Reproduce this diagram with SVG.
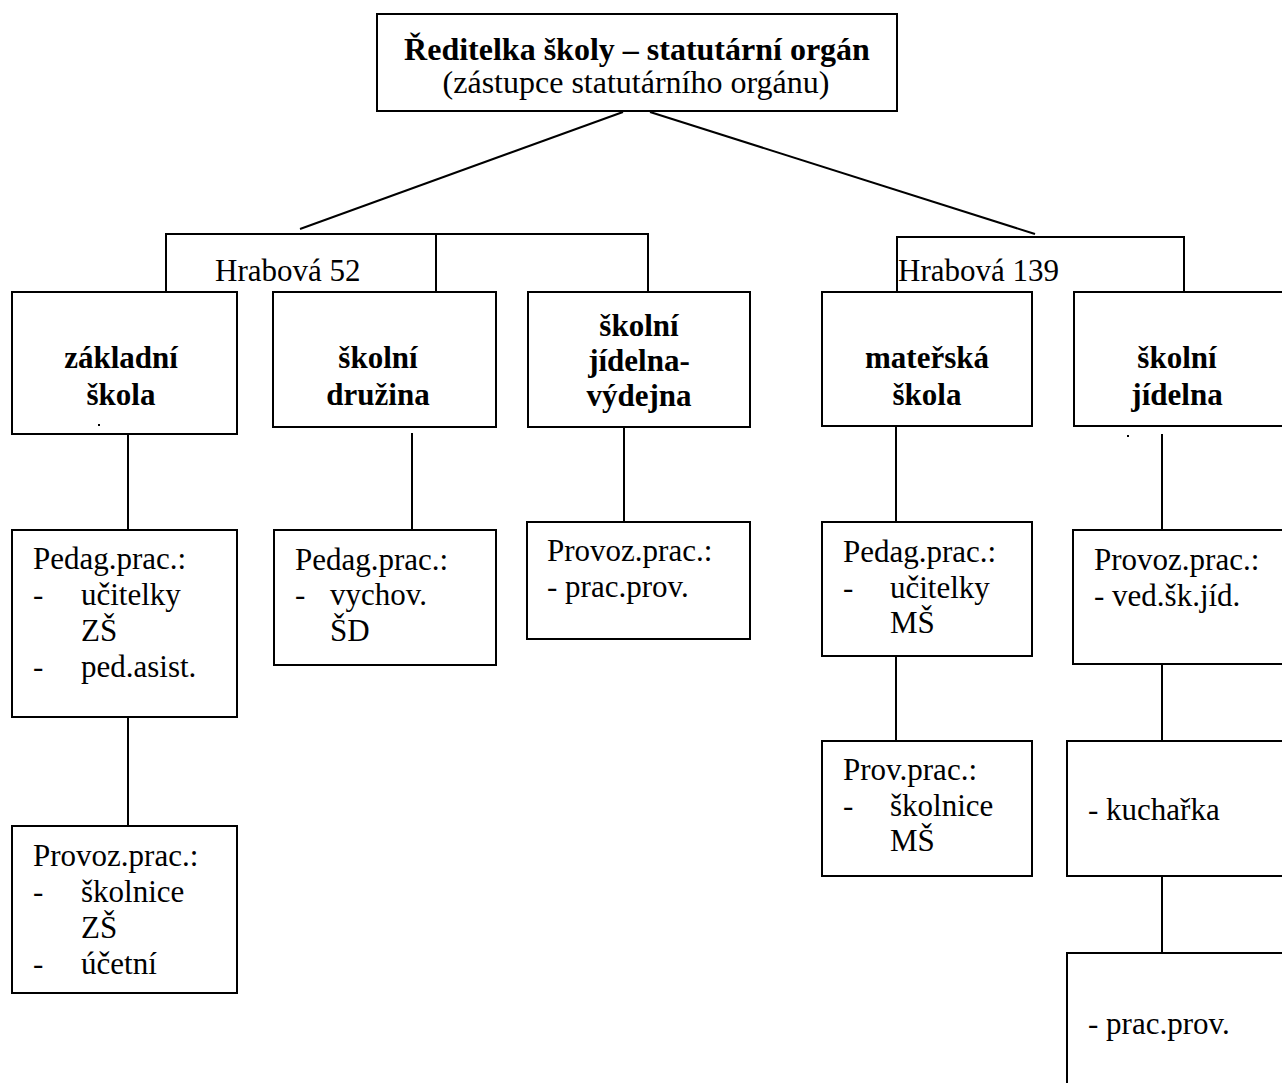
<svg xmlns="http://www.w3.org/2000/svg" width="1282" height="1083" viewBox="0 0 1282 1083">
<style>
.box{fill:#fff;stroke:#000;stroke-width:2}
.ln{fill:none;stroke:#000;stroke-width:2}
text{font-family:"Liberation Serif","Times New Roman",serif;font-size:31px;fill:#000}
.b{font-weight:bold;text-anchor:middle}
.c{text-anchor:middle}
</style>
<rect width="1282" height="1083" fill="#fff"/>
<g id="connectors">
<path class="ln" d="M623 112 L300 229"/>
<path class="ln" d="M650 112 L1035 234"/>
<path class="ln" d="M166 292 V234 H648 V292 M436 234 V292"/>
<path class="ln" d="M897 296 V237 H1184 V296"/>
<path class="ln" d="M128 434 V530 M412 433 V530 M624 427 V522 M896 426 V522 M1162 434 V530"/>
<path class="ln" d="M128 717 V826 M896 656 V741 M1162 664 V741 M1162 876 V953"/>
</g>
<g id="label-hrabova52"><text x="215" y="281">Hrabová 52</text></g>
<g id="label-hrabova139"><text x="898" y="281">Hrabová 139</text></g>
<g id="reditelka">
<rect class="box" x="377" y="14" width="520" height="97"/>
<text class="b" x="637" y="60" style="font-size:32px">Ředitelka školy – statutární orgán</text>
<text class="c" x="636" y="93" style="font-size:32px">(zástupce statutárního orgánu)</text>
</g>
<g id="zakladni-skola">
<rect class="box" x="12" y="292" width="225" height="142"/>
<text class="b" x="121" y="368">základní</text>
<text class="b" x="121" y="405">škola</text>
<rect x="98" y="424" width="2" height="2" fill="#000"/>
</g>
<g id="skolni-druzina">
<rect class="box" x="273" y="292" width="223" height="135"/>
<text class="b" x="378" y="368">školní</text>
<text class="b" x="378" y="405">družina</text>
</g>
<g id="skolni-jidelna-vydejna">
<rect class="box" x="528" y="292" width="222" height="135"/>
<text class="b" x="639" y="336">školní</text>
<text class="b" x="639" y="371">jídelna-</text>
<text class="b" x="639" y="406">výdejna</text>
</g>
<g id="materska-skola">
<rect class="box" x="822" y="292" width="210" height="134"/>
<text class="b" x="927" y="368">mateřská</text>
<text class="b" x="927" y="405">škola</text>
</g>
<g id="skolni-jidelna">
<rect class="box" x="1074" y="292" width="230" height="134"/>
<text class="b" x="1177" y="368">školní</text>
<text class="b" x="1177" y="405">jídelna</text>
<rect x="1127" y="435" width="2" height="2" fill="#000"/>
</g>
<g id="zs-pedag">
<rect class="box" x="12" y="530" width="225" height="187"/>
<text x="33" y="569">Pedag.prac.:</text>
<text x="33" y="605">-</text><text x="81" y="605">učitelky</text>
<text x="81" y="641">ZŠ</text>
<text x="33" y="677">-</text><text x="81" y="677">ped.asist.</text>
</g>
<g id="zs-provoz">
<rect class="box" x="12" y="826" width="225" height="167"/>
<text x="33" y="866">Provoz.prac.:</text>
<text x="33" y="902">-</text><text x="81" y="902">školnice</text>
<text x="81" y="938">ZŠ</text>
<text x="33" y="974">-</text><text x="81" y="974">účetní</text>
</g>
<g id="sd-pedag">
<rect class="box" x="274" y="530" width="222" height="135"/>
<text x="295" y="570">Pedag.prac.:</text>
<text x="295" y="605">-</text><text x="330" y="605">vychov.</text>
<text x="330" y="641">ŠD</text>
</g>
<g id="vydejna-provoz">
<rect class="box" x="527" y="522" width="223" height="117"/>
<text x="547" y="561">Provoz.prac.:</text>
<text x="547" y="597">- prac.prov.</text>
</g>
<g id="ms-pedag">
<rect class="box" x="822" y="522" width="210" height="134"/>
<text x="843" y="562">Pedag.prac.:</text>
<text x="843" y="598">-</text><text x="890" y="598">učitelky</text>
<text x="890" y="633">MŠ</text>
</g>
<g id="ms-prov">
<rect class="box" x="822" y="741" width="210" height="135"/>
<text x="843" y="780">Prov.prac.:</text>
<text x="843" y="816">-</text><text x="890" y="816">školnice</text>
<text x="890" y="851">MŠ</text>
</g>
<g id="sj-provoz">
<rect class="box" x="1073" y="530" width="230" height="134"/>
<text x="1094" y="570">Provoz.prac.:</text>
<text x="1094" y="606">- ved.šk.jíd.</text>
</g>
<g id="sj-kucharka">
<rect class="box" x="1067" y="741" width="236" height="135"/>
<text x="1088" y="820">- kuchařka</text>
</g>
<g id="sj-pracprov">
<rect class="box" x="1067" y="953" width="236" height="150"/>
<text x="1088" y="1034">- prac.prov.</text>
</g>
</svg>
